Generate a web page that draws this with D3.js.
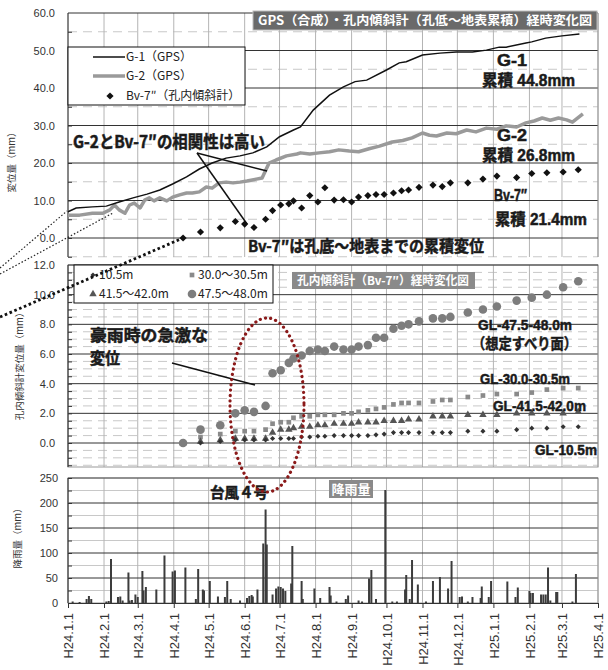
<!DOCTYPE html>
<html>
<head>
<meta charset="utf-8">
<script src="https://cdn.jsdelivr.net/npm/d3@7"></script>
<style>
body { margin: 0; background: #fff; }
text { font-family: "Liberation Sans", Arial, "Noto Sans CJK JP", sans-serif; }
.jp { font-family: "Noto Sans CJK JP", "Liberation Sans", sans-serif; }
</style>
</head>
<body>
<script>
var parse = d3.timeParse("%Y-%m-%d");

// month ticks
var monthDates = ["2012-01-01","2012-02-01","2012-03-01","2012-04-01","2012-05-01","2012-06-01","2012-07-01","2012-08-01",
  "2012-09-01","2012-10-01","2012-11-01","2012-12-01","2013-01-01","2013-02-01","2013-03-01","2013-04-01"];
var monthLabels = ["H24.1.1","H24.2.1","H24.3.1","H24.4.1","H24.5.1","H24.6.1","H24.7.1","H24.8.1",
  "H24.9.1","H24.10.1","H24.11.1","H24.12.1","H25.1.1","H25.2.1","H25.3.1","H25.4.1"];

var topTicks = [0,10,20,30,40,50,60];
var midTicks = [0,2,4,6,8,10,12];
var rainTicks = [0,50,100,150,200,250];

// GPS G-1
var g1Dates = ["2012-01-01","2012-01-08","2012-01-22","2012-02-03","2012-02-14","2012-02-26","2012-03-09","2012-03-20",
  "2012-03-31","2012-04-12","2012-04-23","2012-05-04","2012-05-16","2012-05-28","2012-06-08","2012-06-20","2012-07-01",
  "2012-07-13","2012-07-19","2012-07-30","2012-08-13","2012-08-25","2012-09-04","2012-09-14","2012-10-01","2012-10-12",
  "2012-10-18","2012-11-01","2012-11-16","2012-11-30","2012-12-14","2012-12-26","2013-01-06","2013-01-12","2013-01-29",
  "2013-02-03","2013-02-15","2013-03-01","2013-03-16"];
var g1Values = [7.0,8.0,8.3,8.5,9.6,10.7,11.7,12.8,14.4,16.3,18.4,20.0,21.3,21.9,22.7,24.3,27.0,
  28.8,29.6,34.1,38.1,40.3,41.7,42.1,44.8,46.7,47.0,48.8,49.3,49.6,49.6,50.1,50.9,50.9,52.0,52.3,53.3,53.9,54.4];

// GPS G-2
var g2Dates = ["2012-01-01","2012-01-11","2012-01-22","2012-01-31","2012-02-06","2012-02-10","2012-02-14","2012-02-19",
  "2012-02-23","2012-02-27","2012-03-03","2012-03-07","2012-03-11","2012-03-15","2012-03-20","2012-03-26","2012-03-31",
  "2012-04-06","2012-04-12","2012-04-17","2012-04-23","2012-04-29","2012-05-04","2012-05-10","2012-05-16","2012-05-22",
  "2012-05-28","2012-06-03","2012-06-11","2012-06-16","2012-06-22","2012-06-28","2012-07-07","2012-07-16","2012-07-19",
  "2012-07-27","2012-08-04","2012-08-13","2012-08-21","2012-08-30","2012-09-07","2012-09-16","2012-09-25","2012-10-06",
  "2012-10-15","2012-10-23","2012-11-01","2012-11-07","2012-11-13","2012-11-22","2012-11-30","2012-12-09","2012-12-17",
  "2012-12-26","2013-01-04","2013-01-12","2013-01-21","2013-01-29","2013-02-05","2013-02-12","2013-02-19","2013-02-26",
  "2013-03-05","2013-03-10","2013-03-19"];
var g2Values = [6.1,6.1,6.6,6.6,7.5,8.8,7.5,6.6,8.8,9.3,8.0,10.1,10.7,9.9,10.7,9.9,10.9,
  11.5,12.0,12.0,12.3,13.6,13.3,14.7,14.9,14.7,14.9,15.2,15.7,16.0,20.0,20.8,21.9,22.4,22.7,
  22.4,22.7,23.0,23.5,23.2,23.0,23.8,24.5,25.6,26.0,26.7,28.0,27.4,27.2,28.0,27.8,28.8,28.3,
  29.3,29.0,29.9,29.6,30.7,31.2,32.0,31.4,32.0,31.5,30.9,33.1];

// inclinometer Bv-7" measurement dates
var bvDates = ["2012-04-09","2012-04-24","2012-05-11","2012-05-24","2012-06-01","2012-06-09","2012-06-19","2012-06-25",
  "2012-07-02","2012-07-09","2012-07-13","2012-07-20","2012-07-27","2012-08-03","2012-08-09","2012-08-17","2012-08-25",
  "2012-09-01","2012-09-07","2012-09-15","2012-09-22","2012-09-29","2012-10-07","2012-10-14","2012-10-20","2012-10-29",
  "2012-11-10","2012-11-18","2012-11-25","2012-12-10","2012-12-23","2013-01-04","2013-01-21","2013-02-03","2013-02-16",
  "2013-03-02","2013-03-15"];
var bvTotal = [0,1.6,2.7,4.4,3.7,2.8,5.0,7.3,8.8,9.1,9.9,8.0,11.3,9.6,13.4,10.1,10.2,9.6,10.9,11.3,11.6,11.6,12.0,
  12.6,12.8,13.5,14.1,13.7,14.7,14.7,15.7,16.5,16.1,17.2,17.4,17.6,18.2];
var gl105 = [0,0,0.1,0.2,0.2,0.2,0.2,0.3,0.3,0.3,0.3,0.4,0.4,0.45,0.45,0.5,0.5,0.5,0.5,0.5,0.55,0.6,0.7,
  0.7,0.7,0.7,0.7,0.7,0.7,0.8,0.8,0.8,0.9,1.0,1.0,1.1,1.1];
var gl300 = [0,0.4,0.6,0.8,0.8,0.8,0.9,1.3,1.4,1.4,1.7,1.8,1.8,1.9,1.9,1.9,2.0,2.0,2.1,2.2,2.3,2.4,2.6,
  2.7,2.7,2.7,2.8,2.9,2.9,3.1,3.2,3.3,3.3,3.4,3.6,3.7,3.7];
var gl415 = [0,0.1,0.2,0.3,0.3,0.3,0.3,0.7,0.9,0.9,1.0,1.1,1.1,1.2,1.2,1.3,1.3,1.3,1.4,1.4,1.4,1.5,1.5,
  1.5,1.6,1.6,1.8,1.8,1.8,1.9,1.9,1.9,2.0,2.0,2.0,2.0,2.1];
var gl475 = [0,0.9,1.2,2.0,2.2,2.1,2.5,4.7,4.9,5.4,5.7,5.9,6.2,6.3,6.2,6.5,6.3,6.3,6.5,6.6,7.1,7.1,7.7,
  7.9,8.0,8.2,8.4,8.4,8.5,8.8,9.0,9.2,9.6,9.8,10.0,10.5,10.9];

// daily rainfall
var rainDates = ["2012-01-05","2012-01-11","2012-01-17","2012-01-19","2012-01-21","2012-02-03","2012-02-05","2012-02-07",
  "2012-02-13","2012-02-15","2012-02-17","2012-02-22","2012-02-23","2012-02-25","2012-02-28","2012-03-01","2012-03-05",
  "2012-03-06","2012-03-08","2012-03-17","2012-03-24","2012-03-31","2012-04-02","2012-04-11","2012-04-20","2012-04-22",
  "2012-04-26","2012-04-27","2012-05-02","2012-05-09","2012-05-15","2012-05-17","2012-05-20","2012-05-28","2012-06-03",
  "2012-06-05","2012-06-07","2012-06-08","2012-06-12","2012-06-17","2012-06-19","2012-06-20","2012-06-25","2012-06-28",
  "2012-06-30","2012-07-02","2012-07-04","2012-07-06","2012-07-11","2012-07-12","2012-07-20","2012-07-21","2012-07-31",
  "2012-08-05","2012-08-13","2012-08-14","2012-08-19","2012-08-27","2012-08-29","2012-09-07","2012-09-10","2012-09-16",
  "2012-09-18","2012-09-22","2012-09-30","2012-10-06","2012-10-10","2012-10-17","2012-10-18","2012-10-21","2012-10-23",
  "2012-10-28","2012-11-04","2012-11-10","2012-11-16","2012-11-23","2012-11-26","2012-12-03","2012-12-05","2012-12-10",
  "2012-12-14","2012-12-21","2012-12-22","2012-12-28","2012-12-30","2013-01-13","2013-01-20","2013-01-22","2013-02-01",
  "2013-02-02","2013-02-04","2013-02-11","2013-02-13","2013-02-15","2013-02-17","2013-02-19","2013-02-24","2013-02-25",
  "2013-03-10","2013-03-13"];
var rainValues = [3,2,8,14,8,3,4,88,12,13,5,61,5,6,17,12,64,25,32,27,95,63,65,71,8,68,27,25,44,13,12,44,8,5,10,
  14,16,13,27,119,187,117,17,29,33,32,29,24,39,114,44,8,29,10,32,15,3,8,15,5,3,49,66,8,226,3,3,27,56,8,86,37,3,44,52,
  29,84,12,13,3,12,10,33,12,44,43,12,31,24,20,20,17,17,17,71,5,22,22,3,58];

var svg = d3.select("body").append("svg").attr("width", 608).attr("height", 670);

var x = d3.scaleTime().domain([parse("2012-01-01"), parse("2013-04-01")]).range([68, 598]);
var yTop = d3.scaleLinear().domain([-5, 60]).range([256.75, 13]);
var yMid = d3.scaleLinear().domain([-1.5, 12]).range([465.25, 265]);
var yRain = d3.scaleLinear().domain([0, 250]).range([603, 478]);

var months = monthDates.map(parse);

function grid(y, top, bottom, majors, minors, minorDash) {
  var g = svg.append("g");
  g.selectAll(".mi").data(minors).enter().append("line")
    .attr("x1", 68).attr("x2", 598)
    .attr("y1", function(d){ return y(d); }).attr("y2", function(d){ return y(d); })
    .attr("stroke", "#c8c8c8").attr("stroke-width", 1)
    .attr("stroke-dasharray", minorDash ? "9,6" : null);
  g.selectAll(".v").data(months).enter().append("line")
    .attr("x1", function(d){ return x(d); }).attr("x2", function(d){ return x(d); })
    .attr("y1", top).attr("y2", bottom)
    .attr("stroke", "#b4b4b4").attr("stroke-width", 1);
  g.selectAll(".ma").data(majors).enter().append("line")
    .attr("x1", 68).attr("x2", 598)
    .attr("y1", function(d){ return y(d); }).attr("y2", function(d){ return y(d); })
    .attr("stroke", "#333").attr("stroke-width", 1);
  return g;
}

function leftAxis(y, ticks, fmt, pad, minorTicks) {
  var g = svg.append("g").attr("transform", "translate(68,0)")
    .call(d3.axisLeft(y).tickValues(ticks).tickFormat(d3.format(fmt)).tickSize(0).tickPadding(pad));
  g.select(".domain").remove();
  g.selectAll("text").attr("font-size", 11).attr("fill", "#333");
  svg.append("g").attr("transform", "translate(68,0)")
    .call(d3.axisRight(y).tickValues(minorTicks).tickSize(4).tickFormat(""))
    .call(function(s){ s.select(".domain").remove(); s.selectAll("line").attr("stroke", "#333"); });
}

// ---- top panel (GPS + cumulative inclinometer)
grid(yTop, 13, 257, [10,20,30,40,50,60], [-5,5,15,25,35,45,55], true);
svg.append("line").attr("x1", 68).attr("x2", 68).attr("y1", 13).attr("y2", 257).attr("stroke", "#333");
svg.append("line").attr("x1", 598).attr("x2", 598).attr("y1", 13).attr("y2", 257).attr("stroke", "#999");
svg.append("line").attr("x1", 68).attr("x2", 598).attr("y1", yTop(0)).attr("y2", yTop(0)).attr("stroke", "#333");
leftAxis(yTop, topTicks, ".1f", 13, [-5,0,5,10,15,20,25,30,35,40,45,50,55]);

var lineTop = d3.line().x(function(d){ return x(d[0]); }).y(function(d){ return yTop(d[1]); });
svg.append("path").datum(g2Dates.map(function(d, i){ return [parse(d), g2Values[i]]; }))
  .attr("d", lineTop).attr("fill", "none").attr("stroke", "#9a9a9a").attr("stroke-width", 3.5)
  .attr("stroke-linejoin", "round");
svg.append("path").datum(g1Dates.map(function(d, i){ return [parse(d), g1Values[i]]; }))
  .attr("d", lineTop).attr("fill", "none").attr("stroke", "#111").attr("stroke-width", 1.5);

var diamond = d3.symbol().type(d3.symbolSquare);
svg.append("g").selectAll("path").data(bvDates).enter().append("path")
  .attr("d", diamond.size(26)())
  .attr("transform", function(d, i){ return "translate(" + x(parse(d)) + "," + yTop(bvTotal[i]) + ") rotate(45)"; })
  .attr("fill", "#111");

// title
svg.append("rect").attr("x", 253).attr("y", 11).attr("width", 344).attr("height", 19)
  .attr("fill", "#6a6a6a").attr("stroke", "#bbb");
svg.append("text").attr("class", "jp").attr("x", 425).attr("y", 25).attr("text-anchor", "middle")
  .attr("font-size", 12.5).attr("font-weight", "bold").attr("fill", "#fff")
  .attr("textLength", 334).attr("lengthAdjust", "spacingAndGlyphs")
  .text("GPS（合成）・孔内傾斜計（孔低～地表累積）経時変化図");

// legend
var leg = svg.append("g");
leg.append("rect").attr("x", 68).attr("y", 47).attr("width", 177).attr("height", 58)
  .attr("fill", "#fff").attr("stroke", "#111");
leg.append("line").attr("x1", 93).attr("x2", 125).attr("y1", 57).attr("y2", 57).attr("stroke", "#111").attr("stroke-width", 1.5);
leg.append("line").attr("x1", 93).attr("x2", 125).attr("y1", 76).attr("y2", 76).attr("stroke", "#9a9a9a").attr("stroke-width", 3.5);
leg.append("path").attr("d", diamond.size(26)()).attr("transform", "translate(110,96) rotate(45)").attr("fill", "#111");
var legTexts = ["G-1（GPS）", "G-2（GPS）", "Bv-7″（孔内傾斜計）"];
leg.selectAll("text").data(legTexts).enter().append("text").attr("class", "jp")
  .attr("x", 126).attr("y", function(d, i){ return [57, 76, 96][i]; }).attr("dy", "0.36em")
  .attr("font-size", 12).attr("fill", "#222").text(function(d){ return d; });

// ---- middle panel
svg.append("rect").attr("x", 68).attr("y", 265).attr("width", 530).attr("height", 202).attr("fill", "#fff");
var midMinor = d3.range(-1.5, 12, 0.5).filter(function(v){ return Math.abs(v % 2) > 0.01; });
grid(yMid, 265, 467, [0,2,4,6,8,10], midMinor, true);
svg.append("rect").attr("x", 68).attr("y", 265).attr("width", 530).attr("height", 202)
  .attr("fill", "none").attr("stroke", "#999");
svg.append("line").attr("x1", 68).attr("x2", 598).attr("y1", 265).attr("y2", 265).attr("stroke", "#333");
svg.append("line").attr("x1", 68).attr("x2", 68).attr("y1", 265).attr("y2", 467).attr("stroke", "#333");
leftAxis(yMid, midTicks, ".1f", 13, d3.range(-1.5, 12, 0.5));

var symSq = d3.symbol().type(d3.symbolSquare).size(22);
var symTri = d3.symbol().type(d3.symbolTriangle).size(24);
var symDia = d3.symbol().type(d3.symbolSquare).size(13);

function pos(y, vals, i, d) { return "translate(" + x(parse(d)) + "," + y(vals[i]) + ")"; }

svg.append("g").selectAll("path").data(bvDates).enter().append("path").attr("d", symSq())
  .attr("transform", function(d, i){ return pos(yMid, gl300, i, d); }).attr("fill", "#8a8a8a");
svg.append("g").selectAll("path").data(bvDates).enter().append("path").attr("d", symTri())
  .attr("transform", function(d, i){ return pos(yMid, gl415, i, d); }).attr("fill", "#555");
svg.append("g").selectAll("path").data(bvDates).enter().append("path").attr("d", symDia())
  .attr("transform", function(d, i){ return pos(yMid, gl105, i, d) + " rotate(45)"; }).attr("fill", "#333");
svg.append("g").selectAll("circle").data(bvDates).enter().append("circle")
  .attr("cx", function(d){ return x(parse(d)); }).attr("cy", function(d, i){ return yMid(gl475[i]); })
  .attr("r", 4.3).attr("fill", "#7d7d7d");

// middle legend
var leg2 = svg.append("g");
leg2.append("rect").attr("x", 74).attr("y", 265).attr("width", 199).attr("height", 38)
  .attr("fill", "#fff").attr("stroke", "#111");
var leg2Labels = ["10.5m", "30.0～30.5m", "41.5～42.0m", "47.5～48.0m"];
var leg2Pos = [[93, 275], [192, 275], [93, 294], [192, 294]];
leg2.append("path").attr("d", symDia()).attr("transform", "translate(93,275) rotate(45)").attr("fill", "#333");
leg2.append("path").attr("d", symSq()).attr("transform", "translate(192,275)").attr("fill", "#8a8a8a");
leg2.append("path").attr("d", symTri()).attr("transform", "translate(93,294)").attr("fill", "#555");
leg2.append("circle").attr("cx", 192).attr("cy", 294).attr("r", 4.3).attr("fill", "#7d7d7d");
leg2.selectAll("text").data(leg2Labels).enter().append("text").attr("class", "jp")
  .attr("x", function(d, i){ return leg2Pos[i][0] + 6; }).attr("y", function(d, i){ return leg2Pos[i][1]; })
  .attr("dy", "0.36em").attr("font-size", 12).attr("fill", "#222").text(function(d){ return d; });

svg.append("rect").attr("x", 292).attr("y", 272).attr("width", 183).attr("height", 17).attr("fill", "#8a8a8a");
svg.append("text").attr("class", "jp").attr("x", 383).attr("y", 285).attr("text-anchor", "middle")
  .attr("font-size", 12).attr("font-weight", "bold").attr("fill", "#fff")
  .attr("textLength", 172).attr("lengthAdjust", "spacingAndGlyphs")
  .text("孔内傾斜計（Bv-7″）経時変化図");

// ---- rainfall panel
grid(yRain, 478, 603, [50,100,150,200], [25,75,125,175,225], false);
svg.append("rect").attr("x", 68).attr("y", 478).attr("width", 530).attr("height", 125)
  .attr("fill", "none").attr("stroke", "#999");
svg.append("line").attr("x1", 68).attr("x2", 598).attr("y1", 478).attr("y2", 478).attr("stroke", "#555");
svg.append("line").attr("x1", 68).attr("x2", 68).attr("y1", 478).attr("y2", 603).attr("stroke", "#333");
leftAxis(yRain, rainTicks, "d", 10, d3.range(0, 251, 25));

svg.append("g").selectAll("rect").data(rainDates).enter().append("rect")
  .attr("x", function(d){ return x(parse(d)) - 1; })
  .attr("y", function(d, i){ return yRain(rainValues[i]); })
  .attr("width", 2)
  .attr("height", function(d, i){ return yRain(0) - yRain(rainValues[i]); })
  .attr("fill", "#3c3c3c");

var xAxis = svg.append("g").attr("transform", "translate(0,603)")
  .call(d3.axisBottom(x).tickValues(months).tickSize(5).tickFormat(function(d, i){ return monthLabels[i]; }));
xAxis.select(".domain").attr("stroke", "#333");
xAxis.selectAll("line").attr("stroke", "#333");
xAxis.selectAll("text").attr("transform", "rotate(-90)").attr("text-anchor", "end")
  .attr("x", -10).attr("y", 0).attr("dy", "0.36em").attr("font-size", 13).attr("fill", "#333");

svg.append("rect").attr("x", 329).attr("y", 480).attr("width", 44).attr("height", 18).attr("fill", "#8a8a8a");
svg.append("text").attr("class", "jp").attr("x", 351).attr("y", 494).attr("text-anchor", "middle")
  .attr("font-size", 13).attr("font-weight", "bold").attr("fill", "#fff").text("降雨量");

// y titles
var yTitles = [["変位量（mm）", 12, 160], ["孔内傾斜計変位量（mm）", 20, 364], ["降雨量（mm）", 18, 536]];
svg.selectAll(".ytitle").data(yTitles).enter().append("text").attr("class", "jp")
  .attr("transform", function(d){ return "translate(" + d[1] + "," + d[2] + ") rotate(-90)"; })
  .attr("text-anchor", "middle").attr("dy", "0.35em").attr("font-size", 9.5).attr("fill", "#333")
  .text(function(d){ return d[0]; });

// ---- annotations
function note(t, x0, yb, size, len, cls) {
  svg.append("text").attr("class", cls || "jp").attr("x", x0).attr("y", yb)
    .attr("font-size", size).attr("font-weight", "bold").attr("fill", "#1a1a1a")
    .attr("stroke", "#1a1a1a").attr("stroke-width", 0.5)
    .attr("textLength", len).attr("lengthAdjust", "spacingAndGlyphs").text(t);
}
note("G-2とBv-7″の相関性は高い", 73, 148, 17, 192);
note("Bv-7″は孔底～地表までの累積変位", 248, 252, 16, 236);
note("G-1", 497, 66, 16, 30, "gl");
note("累積 44.8mm", 482, 86, 16, 93, "gl");
note("G-2", 497, 141, 16, 30, "gl");
note("累積 26.8mm", 482, 161, 16, 93, "gl");
note("Bv-7″", 494, 201, 16, 33, "gl");
note("累積 21.4mm", 495, 225, 16, 92, "gl");
note("豪雨時の急激な", 90, 341, 16, 118);
note("変位", 90, 364, 16, 30);
note("GL-47.5-48.0m", 478, 330, 15, 94, "gl");
note("（想定すべり面）", 472, 349, 15, 105);
note("GL-30.0-30.5m", 480, 384, 15, 90, "gl");
note("GL-41.5-42.0m", 493, 411, 15, 93, "gl");
note("GL-10.5m", 535, 455, 15, 62, "gl");
note("台風４号", 210, 498, 15, 58);

var pointers = [[197,153,267,171],[197,153,247,224],[172,363,255,385]];
svg.selectAll(".ptr").data(pointers).enter().append("line")
  .attr("x1", function(d){ return d[0]; }).attr("y1", function(d){ return d[1]; })
  .attr("x2", function(d){ return d[2]; }).attr("y2", function(d){ return d[3]; })
  .attr("stroke", "#111").attr("stroke-width", 1.5);

// dotted connectors
var thin = [[0,268,67,211],[0,274,113,213]];
svg.selectAll(".thin").data(thin).enter().append("line")
  .attr("x1", function(d){ return d[0]; }).attr("y1", function(d){ return d[1]; })
  .attr("x2", function(d){ return d[2]; }).attr("y2", function(d){ return d[3]; })
  .attr("stroke", "#222").attr("stroke-width", 1.2).attr("stroke-dasharray", "1.5,2");
svg.append("line").attr("x1", 0).attr("y1", 317).attr("x2", x(parse(bvDates[0]))).attr("y2", yTop(bvTotal[0]))
  .attr("stroke", "#111").attr("stroke-width", 2.8).attr("stroke-dasharray", "2.6,2.6");

svg.append("ellipse").attr("cx", 267).attr("cy", 405).attr("rx", 37).attr("ry", 87)
  .attr("fill", "none").attr("stroke", "#8b1a1a").attr("stroke-width", 3.2)
  .attr("stroke-linecap", "round").attr("stroke-dasharray", "0.1,5.2");
</script>
</body>
</html>
